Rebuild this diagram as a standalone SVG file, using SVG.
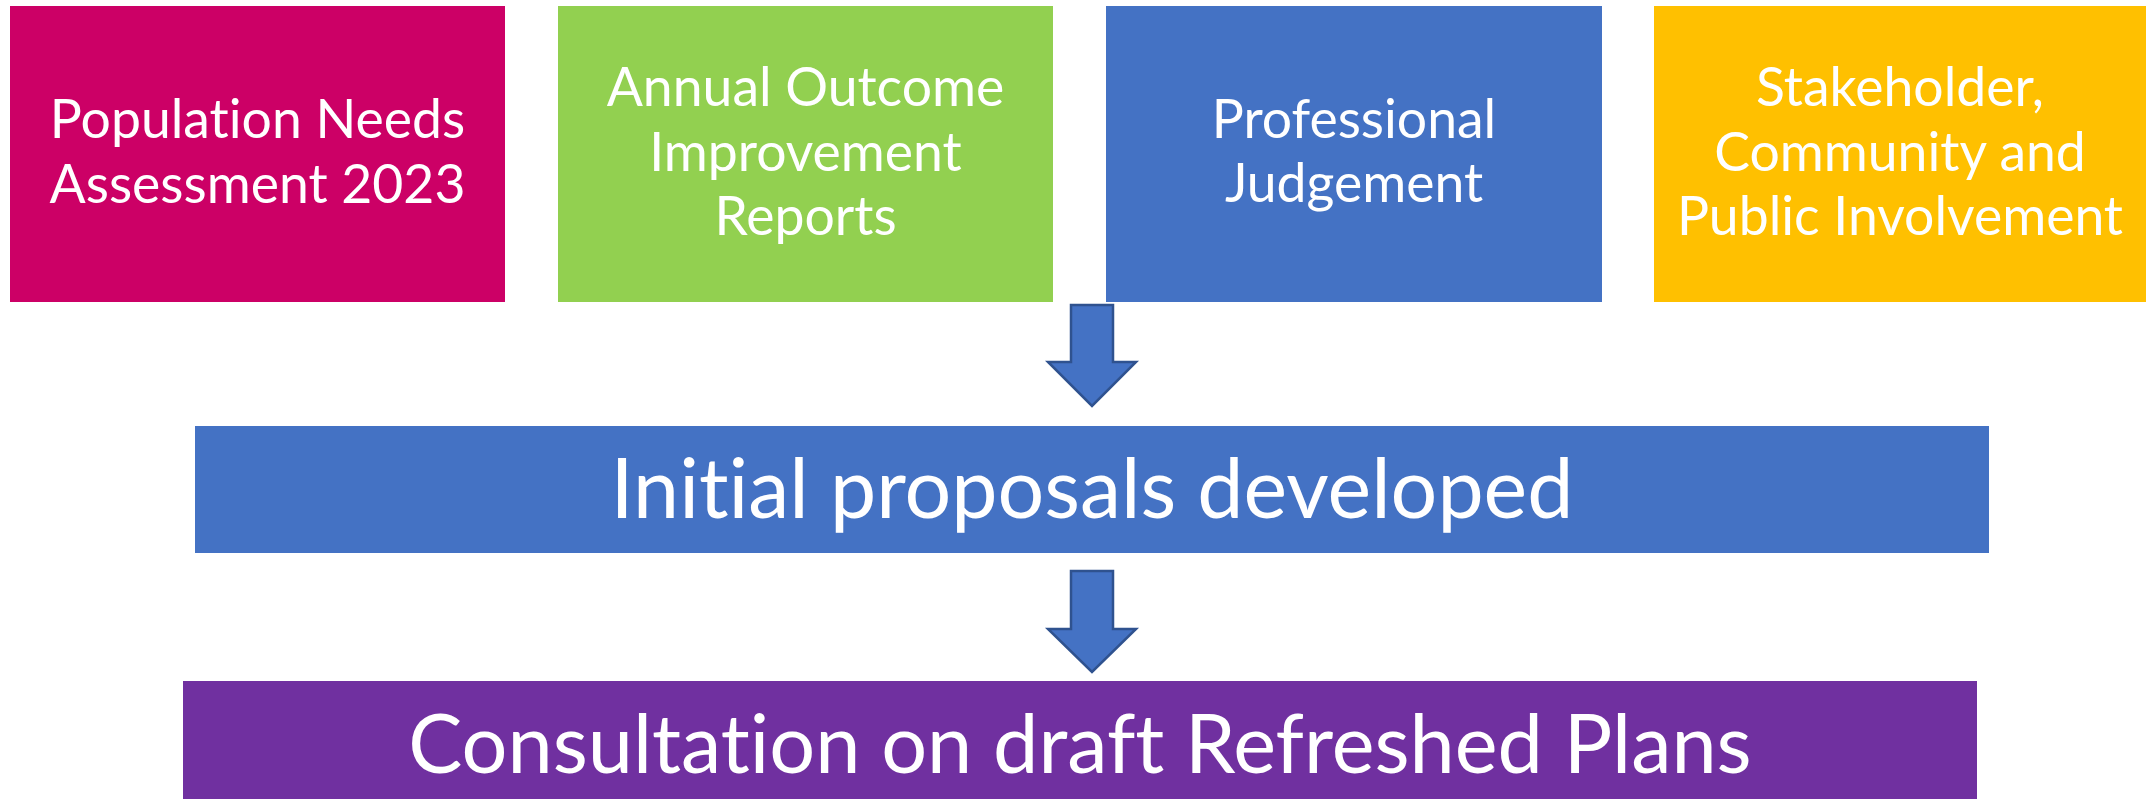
<svg xmlns="http://www.w3.org/2000/svg" width="2146" height="799" viewBox="0 0 2146 799">
  <style>
    .t { font-family: Lato, "Open Sans", "Liberation Sans", sans-serif; fill: #ffffff; text-anchor: middle; font-variant-ligatures: none; font-feature-settings: "liga" 0, "clig" 0; }
    .s { font-size: 53.5px; }
    .b { font-size: 82.5px; }
    .c { font-size: 81px; }
    .arrow { fill: #4472C4; stroke: #2F528F; stroke-width: 2.5; stroke-linejoin: miter; }
  </style>
  <rect width="2146" height="799" fill="#ffffff"/>
  <g id="node-population">
    <rect x="10" y="6" width="495" height="296" fill="#CC0066"/>
    <text class="t s" x="257.5" y="138">Population Needs</text>
    <text class="t s" x="257.5" y="203">Assessment 2023</text>
  </g>
  <g id="node-annual">
    <rect x="558" y="6" width="495" height="296" fill="#92D050"/>
    <text class="t s" x="805.5" y="106">Annual Outcome</text>
    <text class="t s" x="805.5" y="171">Improvement</text>
    <text class="t s" x="805.5" y="235">Reports</text>
  </g>
  <g id="node-professional">
    <rect x="1106" y="6" width="496" height="296" fill="#4472C4"/>
    <text class="t s" x="1354" y="138">Professional</text>
    <text class="t s" x="1354" y="202">Judgement</text>
  </g>
  <g id="node-stakeholder">
    <rect x="1654" y="6" width="492" height="296" fill="#FFC000"/>
    <text class="t s" x="1900" y="106">Stakeholder,</text>
    <text class="t s" x="1900" y="171">Community and</text>
    <text class="t s" x="1900" y="235">Public Involvement</text>
  </g>
  <g id="node-initial">
    <rect x="195" y="426" width="1794" height="127" fill="#4472C4"/>
    <text class="t b" x="1092" y="518">Initial proposals developed</text>
  </g>
  <g id="node-consultation">
    <rect x="183" y="681" width="1794" height="118" fill="#7030A0"/>
    <text class="t c" x="1080" y="773">Consultation on draft Refreshed Plans</text>
  </g>
  <g id="connectors">
    <path class="arrow" d="M1071 305 L1113 305 L1113 362 L1136 362 L1092 406 L1048 362 L1071 362 Z"/>
    <path class="arrow" d="M1071 571 L1113 571 L1113 629 L1136 629 L1092 672 L1048 629 L1071 629 Z"/>
  </g>
</svg>
